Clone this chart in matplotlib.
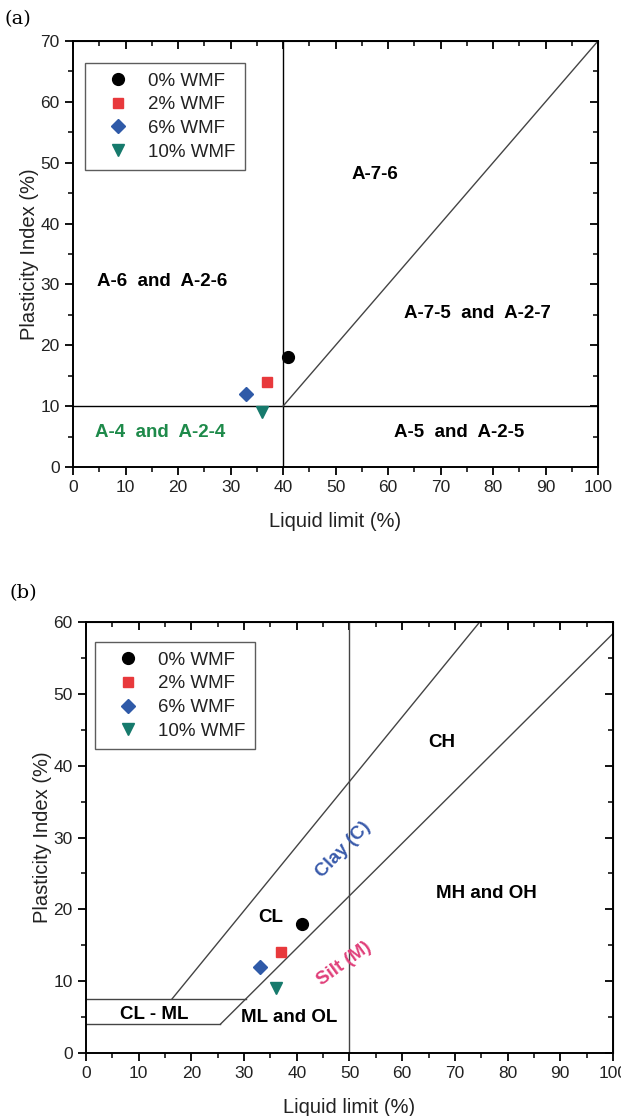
import matplotlib.pyplot as plt
import numpy as np

# measured points (same for both charts)
series_labels = ["0% WMF", "2% WMF", "6% WMF", "10% WMF"]
liquid_limit = [41, 37, 33, 36]
plasticity_index = [18, 14, 12, 9]
marker_styles = ["o", "s", "D", "v"]
marker_colors = ["#000000", "#e8393c", "#2f5aa8", "#167a6c"]
marker_sizes = [8.5, 7, 7, 8.5]

# (a) AASHTO boundaries
aashto_vline = ([40, 40], [0, 70])
aashto_hline = ([0, 100], [10, 10])
aashto_diag = ([40, 100], [10, 70])
aashto_labels = [
    ("A-7-6", 57.5, 48, "black"),
    ("A-6  and  A-2-6", 17, 30.5, "black"),
    ("A-7-5  and  A-2-7", 77, 25.3, "black"),
    ("A-4  and  A-2-4", 16.5, 5.6, "#1e8a4a"),
    ("A-5  and  A-2-5", 73.5, 5.6, "black"),
]

# (b) USCS plasticity chart boundaries
uline_x = [16.3, 74.7]
uline_y = [7.5, 60]
aline_x = [25.5, 100]
aline_y = [4, 58.4]
upper_h = ([0, 30.3], [7.5, 7.5])
lower_h = ([0, 25.5], [4, 4])
uscs_vline = ([50, 50], [0, 60])
uscs_labels = [
    ("CH", 67.5, 43.2, "black"),
    ("MH and OH", 76, 22.2, "black"),
    ("CL", 35, 18.8, "black"),
    ("CL - ML", 13, 5.3, "black"),
    ("ML and OL", 38.5, 5.0, "black"),
]

plt.rcParams['font.family'] = ['Liberation Sans', 'DejaVu Sans']

fig = plt.figure(figsize=(6.21, 11.16), dpi=100)
ax1 = fig.add_axes([0.1176, 0.5815, 0.8454, 0.3818])
ax2 = fig.add_axes([0.1385, 0.0565, 0.8486, 0.3861])


def style_axes(ax, ymax, ystep):
    ax.set_xlim(0, 100)
    ax.set_ylim(0, ymax)
    ax.set_xticks(np.arange(0, 101, 10))
    ax.set_xticks(np.arange(5, 100, 10), minor=True)
    ax.set_yticks(np.arange(0, ymax + 1, ystep))
    ax.set_yticks(np.arange(5, ymax, ystep), minor=True)
    ax.tick_params(which='major', direction='out', length=6, width=1.3, labelsize=12.5,
                   labelcolor='#222222')
    ax.tick_params(which='minor', direction='out', length=3.5, width=1.1)
    for s in ax.spines.values():
        s.set_linewidth(1.4)
    top = ax.secondary_xaxis('top')
    top.set_xticks(np.arange(0, 101, 10))
    top.set_xticks(np.arange(5, 100, 10), minor=True)
    top.tick_params(which='major', direction='in', length=6, width=1.3, labeltop=False)
    top.tick_params(which='minor', direction='in', length=3.5, width=1.1)
    right = ax.secondary_yaxis('right')
    right.set_yticks(np.arange(0, ymax + 1, ystep))
    right.set_yticks(np.arange(5, ymax, ystep), minor=True)
    right.tick_params(which='major', direction='in', length=6, width=1.3, labelright=False)
    right.tick_params(which='minor', direction='in', length=3.5, width=1.1)
    ax.set_xlabel("Liquid limit (%)", fontsize=14.5, labelpad=12, color='#222222')
    ax.set_ylabel("Plasticity Index (%)", fontsize=14.5, labelpad=1, color='#222222')


def draw_points(ax):
    for lab, x, y, m, c, ms in zip(series_labels, liquid_limit, plasticity_index,
                                   marker_styles, marker_colors, marker_sizes):
        ax.plot(x, y, linestyle='none', marker=m, color=c, markersize=ms, label=lab, zorder=5)


def add_legend(ax, anchor):
    leg = ax.legend(loc='upper left', bbox_to_anchor=anchor, fontsize=13.5, frameon=True,
                    fancybox=False, edgecolor='#333333', handletextpad=0.35, borderpad=0.5,
                    labelspacing=0.35, handlelength=2.5, borderaxespad=0)
    leg.get_frame().set_linewidth(1.0)
    for t in leg.get_texts():
        t.set_color('#222222')


# ---- (a)
style_axes(ax1, 70, 10)
lc = "#444444"
ax1.plot(*aashto_vline, color="black", lw=1.0)
ax1.plot(*aashto_hline, color="black", lw=1.0)
ax1.plot(*aashto_diag, color=lc, lw=1.0)
draw_points(ax1)
for txt, x, y, c in aashto_labels:
    ax1.text(x, y, txt, ha='center', va='center', fontsize=13.5, fontweight='bold', color=c)
add_legend(ax1, (0.023, 0.948))
fig.text(0.008, 0.983, "(a)", fontsize=14, family='DejaVu Serif', va='center')

# ---- (b)
style_axes(ax2, 60, 10)
ax2.plot(uline_x, uline_y, color=lc, lw=1.0)
ax2.plot(aline_x, aline_y, color=lc, lw=1.0)
ax2.plot(*upper_h, color=lc, lw=1.0)
ax2.plot(*lower_h, color=lc, lw=1.0)
ax2.plot(*uscs_vline, color=lc, lw=1.0)
draw_points(ax2)
for txt, x, y, c in uscs_labels:
    ax2.text(x, y, txt, ha='center', va='center', fontsize=13.5, fontweight='bold', color=c)
ax2.text(48.8, 28.3, "Clay (C)", ha='center', va='center', fontsize=13.5, fontweight='bold',
         color="#3a5bab", rotation=46)
ax2.text(49, 12.4, "Silt (M)", ha='center', va='center', fontsize=13.5, fontweight='bold',
         color="#e0407a", rotation=36)
add_legend(ax2, (0.017, 0.953))
fig.text(0.016, 0.469, "(b)", fontsize=14, family='DejaVu Serif', va='center')

fig.savefig("out.png", dpi=100)
